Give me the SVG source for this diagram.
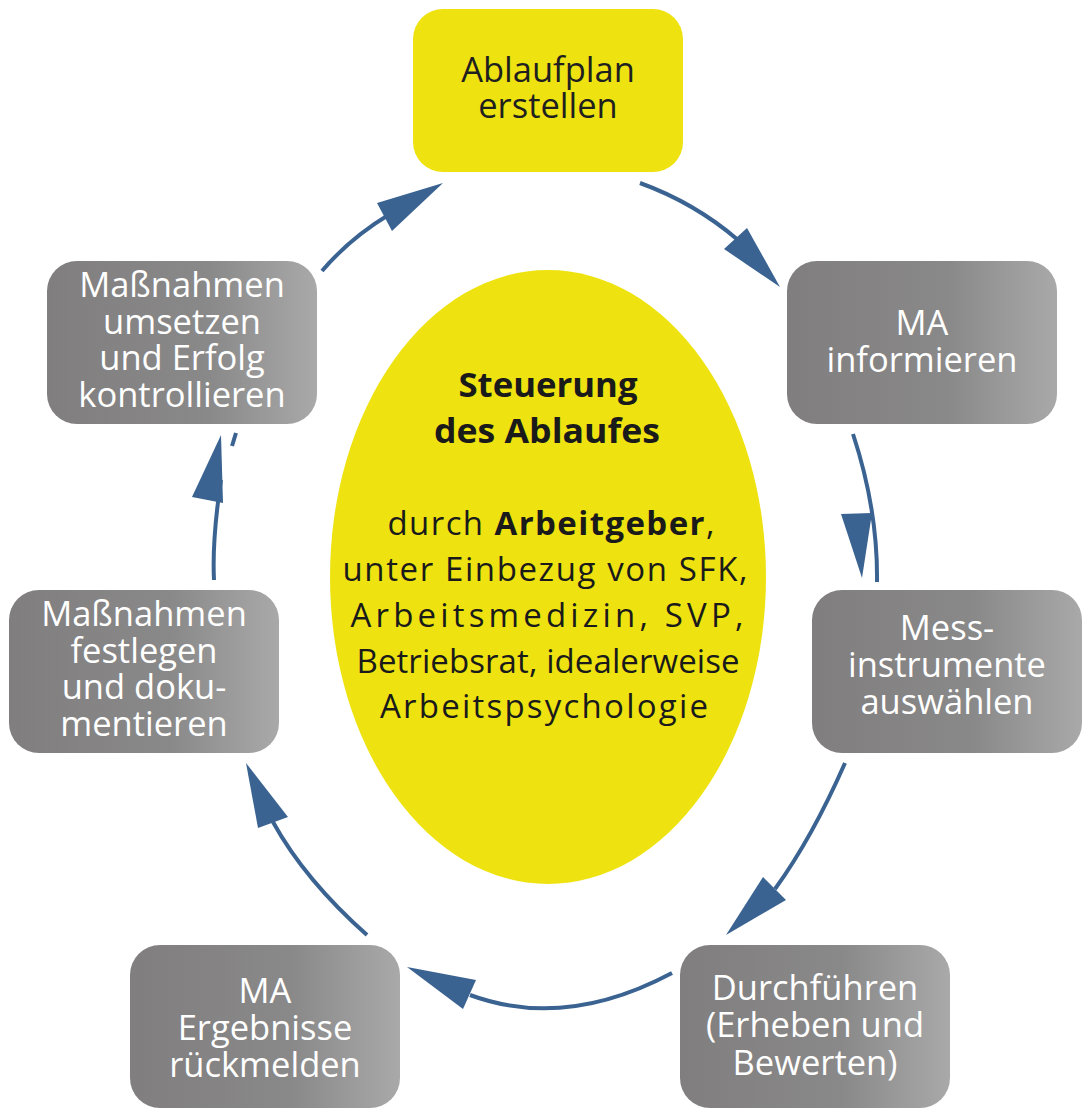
<svg xmlns="http://www.w3.org/2000/svg" width="1092" height="1119" viewBox="0 0 1092 1119">
<defs>
<linearGradient id="g" x1="0" y1="0" x2="1" y2="0">
<stop offset="0" stop-color="#807e7e"/>
<stop offset="0.6" stop-color="#8a8989"/>
<stop offset="1" stop-color="#a9a9a9"/>
</linearGradient>
<style>
.box{fill:url(#g)}
.yb{fill:#eee310}
.t{font-family:"Open Sans","Noto Sans",sans-serif;font-size:34.5px;fill:#fff;text-anchor:middle}
.ty{font-family:"Open Sans","Noto Sans",sans-serif;font-size:34.5px;fill:#1f1f1f;text-anchor:middle}
.c{font-family:"Open Sans","Noto Sans",sans-serif;font-size:33px;fill:#1a1a1a;text-anchor:middle}
.b{font-weight:bold;font-size:33.5px}
.ln{fill:none;stroke:#3a6391;stroke-width:4}
.ah{fill:#3a6391}
</style>
</defs>
<rect width="1092" height="1119" fill="#fff"/>
<g id="connectors">
<path class="ln" d="M322,271 Q350,238 390,214"/>
<polygon class="ah" points="377,203 392,231 443,183"/>
<path class="ln" d="M640,183 Q695,203 738,240"/>
<polygon class="ah" points="747,228 724,249 780,287"/>
<path class="ln" d="M853,434 Q878,510 877,582"/>
<polygon class="ah" points="841,514 872,513 862,578"/>
<path class="ln" d="M214,580 Q212,540 221,480"/>
<polygon class="ah" points="192,497 223,503 221,435"/>
<path class="ln" d="M232,446 L236,433"/>
<path class="ln" d="M845,763 Q812,838 775,889"/>
<polygon class="ah" points="763,877 786,900 726,935"/>
<path class="ln" d="M672,973 Q565,1030 470,995"/>
<polygon class="ah" points="476,980 463,1009 407,967"/>
<path class="ln" d="M367,935 Q305,880 273,822"/>
<polygon class="ah" points="258,828 288,817 246,763"/>
</g>
<g id="center">
<ellipse cx="548" cy="577" rx="218" ry="307" class="yb"/>
<text class="c b" x="548" y="397" textLength="179" lengthAdjust="spacingAndGlyphs">Steuerung</text>
<text class="c b" x="547" y="443" textLength="226" lengthAdjust="spacingAndGlyphs">des Ablaufes</text>
<text class="c" x="551" y="535" textLength="327" lengthAdjust="spacing">durch <tspan class="b" style="font-size:33px">Arbeitgeber</tspan>,</text>
<text class="c" x="545" y="581" textLength="405" lengthAdjust="spacing">unter Einbezug von SFK,</text>
<text class="c" x="547" y="627" textLength="393" lengthAdjust="spacing">Arbeitsmedizin, SVP,</text>
<text class="c" x="548" y="673" textLength="383" lengthAdjust="spacing">Betriebsrat, idealerweise</text>
<text class="c" x="544" y="718" textLength="328" lengthAdjust="spacing">Arbeitspsychologie</text>
</g>
<g id="n1">
<rect x="413" y="9" width="270" height="163" rx="30" class="yb"/>
<text class="ty" x="548" y="82">Ablaufplan</text>
<text class="ty" x="548" y="118">erstellen</text>
</g>
<g id="n2">
<rect x="787" y="261" width="270" height="163" rx="30" class="box"/>
<text class="t" x="922" y="335">MA</text>
<text class="t" x="922" y="372">informieren</text>
</g>
<g id="n3">
<rect x="812" y="590" width="270" height="163" rx="30" class="box"/>
<text class="t" x="947" y="640">Mess-</text>
<text class="t" x="947" y="677">instrumente</text>
<text class="t" x="947" y="714">auswählen</text>
</g>
<g id="n4">
<rect x="680" y="945" width="270" height="163" rx="30" class="box"/>
<text class="t" x="815" y="1000">Durchführen</text>
<text class="t" x="815" y="1037">(Erheben und</text>
<text class="t" x="815" y="1075">Bewerten)</text>
</g>
<g id="n5">
<rect x="130" y="945" width="270" height="163" rx="30" class="box"/>
<text class="t" x="265" y="1003">MA</text>
<text class="t" x="265" y="1040">Ergebnisse</text>
<text class="t" x="265" y="1077">rückmelden</text>
</g>
<g id="n6">
<rect x="9" y="590" width="270" height="163" rx="30" class="box"/>
<text class="t" x="144" y="626">Maßnahmen</text>
<text class="t" x="144" y="663">festlegen</text>
<text class="t" x="144" y="699">und doku-</text>
<text class="t" x="144" y="736">mentieren</text>
</g>
<g id="n7">
<rect x="47" y="261" width="270" height="163" rx="30" class="box"/>
<text class="t" x="182" y="297">Maßnahmen</text>
<text class="t" x="182" y="334">umsetzen</text>
<text class="t" x="182" y="370">und Erfolg</text>
<text class="t" x="182" y="407">kontrollieren</text>
</g>
</svg>
